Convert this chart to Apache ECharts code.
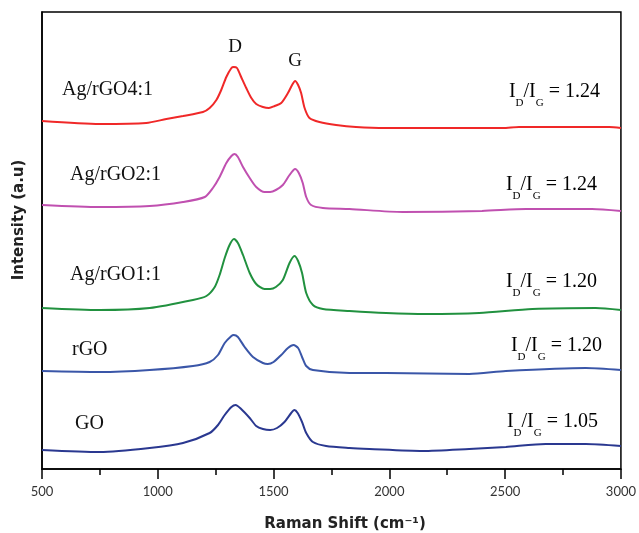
<!DOCTYPE html>
<html>
<head>
<meta charset="utf-8">
<script src="https://cdn.jsdelivr.net/npm/echarts@6/dist/echarts.min.js"></script>
<style>
    html, body { margin: 0; padding: 0; background: #fff; }
    #chart { width: 639px; height: 533px; }
</style>
</head>
<body>
<div id="chart"></div>
<script>
// 拉曼位移 (cm-1) 与强度 (a.u.)，按图读取，曲线自带纵向偏移
const ag41 = [
    [500, 348], [750, 345], [950, 346], [1037, 350], [1109, 353], [1195, 357],
    [1224, 361], [1253, 369], [1274, 379], [1296, 392], [1318, 401], [1328, 402],
    [1342, 401], [1360, 392], [1382, 381], [1404, 371], [1425, 365], [1454, 362],
    [1480, 361], [1505, 363], [1533, 366], [1562, 376], [1580, 384], [1593, 388],
    [1606, 384], [1619, 376], [1634, 361], [1655, 351], [1698, 347], [1770, 344],
    [1856, 342], [1985, 341], [2490, 341], [2560, 342], [2700, 342], [2950, 342],
    [3000, 341]
];
const ag21 = [
    [500, 264], [750, 262], [965, 263], [1109, 267], [1203, 272], [1238, 281],
    [1267, 292], [1296, 306], [1318, 313], [1332, 315], [1346, 312], [1368, 302],
    [1397, 291], [1425, 282], [1461, 277], [1485, 277], [1510, 279], [1540, 284],
    [1569, 294], [1593, 300], [1609, 296], [1626, 286], [1641, 272], [1662, 264],
    [1713, 261], [1828, 260], [2057, 257], [2400, 258], [2590, 260], [2875, 260],
    [3000, 258]
];
const ag11 = [
    [500, 161], [750, 159], [965, 161], [1152, 169], [1210, 173], [1246, 182],
    [1267, 194], [1289, 211], [1310, 224], [1329, 230], [1346, 226], [1368, 214],
    [1397, 196], [1425, 185], [1461, 180], [1485, 180], [1510, 182], [1540, 189],
    [1569, 206], [1590, 213], [1606, 208], [1623, 196], [1641, 176], [1670, 164],
    [1713, 160], [1828, 158], [1986, 156], [2158, 155], [2388, 156], [2618, 160],
    [2891, 161], [3000, 159]
];
const rgo = [
    [500, 98], [750, 97], [965, 99], [1152, 103], [1224, 107], [1260, 114],
    [1289, 126], [1318, 133], [1328, 134], [1346, 132], [1375, 122], [1411, 112],
    [1454, 106], [1475, 105], [1500, 107], [1533, 114], [1562, 121], [1586, 124],
    [1606, 121], [1623, 112], [1641, 103], [1670, 99], [1828, 96], [1986, 96],
    [2345, 95], [2503, 98], [2848, 101], [3000, 99]
];
const go = [
    [500, 19], [750, 17], [965, 21], [1109, 26], [1224, 36], [1260, 44],
    [1289, 54], [1318, 62], [1336, 64], [1360, 60], [1397, 51], [1425, 43],
    [1454, 40], [1485, 39], [1515, 41], [1547, 47], [1576, 56], [1590, 59],
    [1604, 56], [1623, 47], [1641, 36], [1670, 27], [1727, 23], [1828, 21],
    [1914, 20], [2144, 18], [2345, 20], [2503, 22], [2675, 25], [2848, 25],
    [3000, 23]
];

const sampleNames = ['Ag/rGO4:1', 'Ag/rGO2:1', 'Ag/rGO1:1', 'rGO', 'GO'];
const ratios = ['1.24', '1.24', '1.20', '1.20', '1.05'];
const xTicks = [500, 1000, 1500, 2000, 2500, 3000];

const seriesData = [ag41, ag21, ag11, rgo, go];
const lineColors = ['#f02828', '#c050b0', '#21913f', '#3a56a8', '#2a3890'];

// 样品名称与 ID/IG 标注的位置（像素）
const nameSpots = [[62, 90], [70, 175], [70, 275], [72, 350], [75, 424]];
const ratioSpots = [[600, 89], [597, 182], [597, 279], [602, 343], [598, 419]];

const serif = 'Liberation Serif';
const sans = 'DejaVu Sans';

const graphics = [];
sampleNames.forEach((name, i) => {
    graphics.push({
        type: 'text',
        x: nameSpots[i][0],
        y: nameSpots[i][1],
        style: {
            text: name,
            font: '20px "' + serif + '"',
            fill: '#111',
            align: 'left',
            verticalAlign: 'middle',
        },
    });
    // I_D/I_G 下标用富文本
    graphics.push({
        type: 'text',
        x: ratioSpots[i][0],
        y: ratioSpots[i][1],
        style: {
            text: '{m|I}{s|D}{m|/I}{s|G}{m| = ' + ratios[i] + '}',
            align: 'right',
            verticalAlign: 'top',
            rich: {
                m: {
                    fontFamily: serif,
                    fontSize: 20,
                    lineHeight: 20,
                    padding: [0, 0, 7, 0],
                    verticalAlign: 'bottom',
                    color: '#111',
                },
                s: {
                    fontFamily: serif,
                    fontSize: 11,
                    lineHeight: 11,
                    verticalAlign: 'bottom',
                    color: '#111',
                },
            },
        },
    });
});
// 峰位标注
graphics.push(
    { type: 'text', x: 235, y: 47, style: { text: 'D', font: '19px "' + serif + '"', fill: '#111', align: 'center', verticalAlign: 'middle' } },
    { type: 'text', x: 295, y: 61, style: { text: 'G', font: '19px "' + serif + '"', fill: '#111', align: 'center', verticalAlign: 'middle' } },
    // 坐标轴标题
    { type: 'text', x: 345, y: 524, style: { text: 'Raman Shift (cm⁻¹)', font: 'bold 15px "' + sans + '"', fill: '#222', align: 'center', verticalAlign: 'middle' } },
    { type: 'text', x: 19, y: 220, rotation: Math.PI / 2, style: { text: 'Intensity (a.u)', font: 'bold 15px "' + sans + '"', fill: '#222', align: 'center', verticalAlign: 'middle' } }
);

const option = {
    backgroundColor: '#fff',
    animation: false,
    grid: {
        left: 42,
        top: 12,
        width: 580,
        height: 457,
        show: true,
        borderColor: '#000',
        borderWidth: 1.5,
    },
    xAxis: {
        type: 'value',
        min: xTicks[0],
        max: xTicks[xTicks.length - 1],
        interval: 500,
        axisLine: { show: true, lineStyle: { color: '#000', width: 1.5 } },
        axisTick: { show: true, inside: false, length: 10, lineStyle: { color: '#000', width: 1.5 } },
        minorTick: { show: true, splitNumber: 2, length: 6, lineStyle: { color: '#000', width: 1.5 } },
        splitLine: { show: false },
        axisLabel: {
            margin: 16,
            fontFamily: 'Lato',
            fontSize: 13,
            color: '#333',
            formatter: (v) => String(v),
        },
    },
    yAxis: {
        type: 'value',
        min: 0,
        max: 457,
        axisLine: { show: true, lineStyle: { color: '#000', width: 1.5 } },
        axisTick: { show: false },
        axisLabel: { show: false },
        splitLine: { show: false },
    },
    series: seriesData.map((d, i) => ({
        name: sampleNames[i],
        type: 'line',
        data: d,
        showSymbol: false,
        smooth: 0.25,
        lineStyle: { color: lineColors[i], width: 2 },
        itemStyle: { color: lineColors[i] },
    })),
    graphic: graphics,
};

const myChart = echarts.init(document.getElementById('chart'));
myChart.setOption(option);
</script>
</body>
</html>
